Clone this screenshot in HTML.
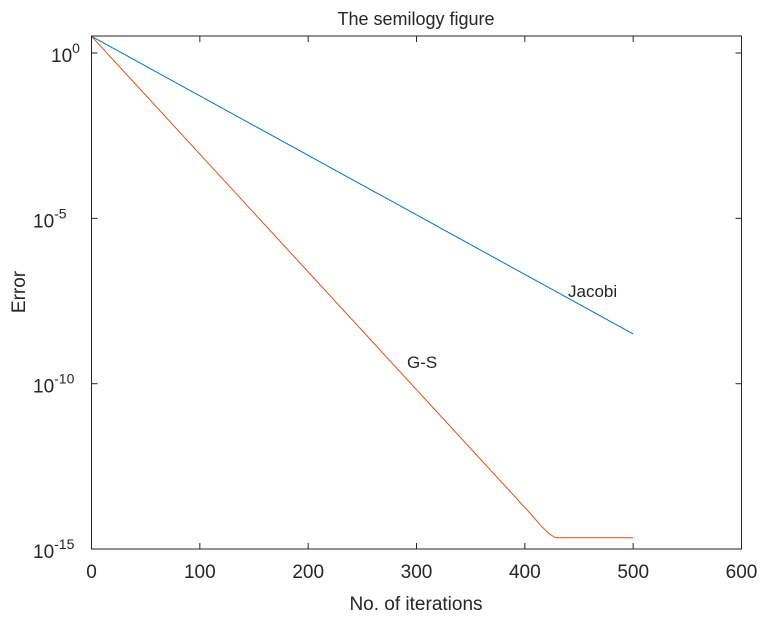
<!DOCTYPE html>
<html><head><meta charset="utf-8"><style>
body{margin:0;background:#fff}
svg text{font-family:"Liberation Sans",Arial,sans-serif;fill:#262626}
</style></head><body>
<svg id="chart" width="765" height="618">
<rect width="765" height="618" fill="#fff"/>
<g id="ticks"></g>
<g id="series"></g>
<rect x="91.5" y="36" width="650" height="513" fill="none" stroke="#262626" stroke-width="1"/>
<text x="416" y="25" text-anchor="middle" font-size="18">The semilogy figure</text>
<text x="416" y="610" text-anchor="middle" font-size="19">No. of iterations</text>
<text transform="translate(25,292) rotate(-90)" text-anchor="middle" font-size="19">Error</text>
<text x="568" y="297" font-size="17">Jacobi</text>
<text x="407" y="368" font-size="17">G-S</text>
</svg>
<script>
const xTicks=[0,100,200,300,400,500,600];
const yTickExps=[0,-5,-10,-15];
const jacobiIter=[0,500];
const jacobiErr=[3.2,3.2e-9];
const gsIter=[0,405,415,422,428,500];
const gsErr=[3.2,1.2e-14,5e-15,3e-15,2.2e-15,2.2e-15];
const X0=91.5,PX=650/600,Y0=53,DEC=33.07;
const sx=v=>X0+v*PX, sy=v=>Y0-Math.log10(v)*DEC;
const NS='http://www.w3.org/2000/svg';
const tg=document.getElementById('ticks'), sg=document.getElementById('series');
function mk(t,a,p){const e=document.createElementNS(NS,t);for(const k in a)e.setAttribute(k,a[k]);p.appendChild(e);return e;}
xTicks.forEach(v=>{
  const x=sx(v);
  const l=mk('line',{x1:x,x2:x,y1:549,y2:543,stroke:'#262626'},tg);
  
  
  const l2=mk('line',{x1:x,x2:x,y1:36,y2:42,stroke:'#262626'},tg);
  
  
  const t=mk('text',{x:x,y:578,'text-anchor':'middle','font-size':'19'},tg);
  t.textContent=v;
  
  
});
yTickExps.forEach(e=>{
  const y=Y0-e*DEC;
  const l=mk('line',{x1:91.5,x2:97.5,y1:y,y2:y,stroke:'#262626'},tg);
  
  
  const l2=mk('line',{x1:741.5,x2:735.5,y1:y,y2:y,stroke:'#262626'},tg);
  
  
  const t=mk('text',{x:e===0?51:33,y:y+9,'font-size':'19'},tg);
  t.innerHTML='10<tspan dy="-9" font-size="14">'+e+'</tspan>';
  
  
});
function line(xs,ys,c,name){
  const p=mk('polyline',{points:xs.map((x,i)=>sx(x)+','+sy(ys[i])).join(' '),fill:'none',stroke:c,'stroke-width':'1'},sg);
  
  
}
line(jacobiIter,jacobiErr,'#0072BD','jacobi-line');
line(gsIter,gsErr,'#D95319','gs-line');
</script>
</body></html>
